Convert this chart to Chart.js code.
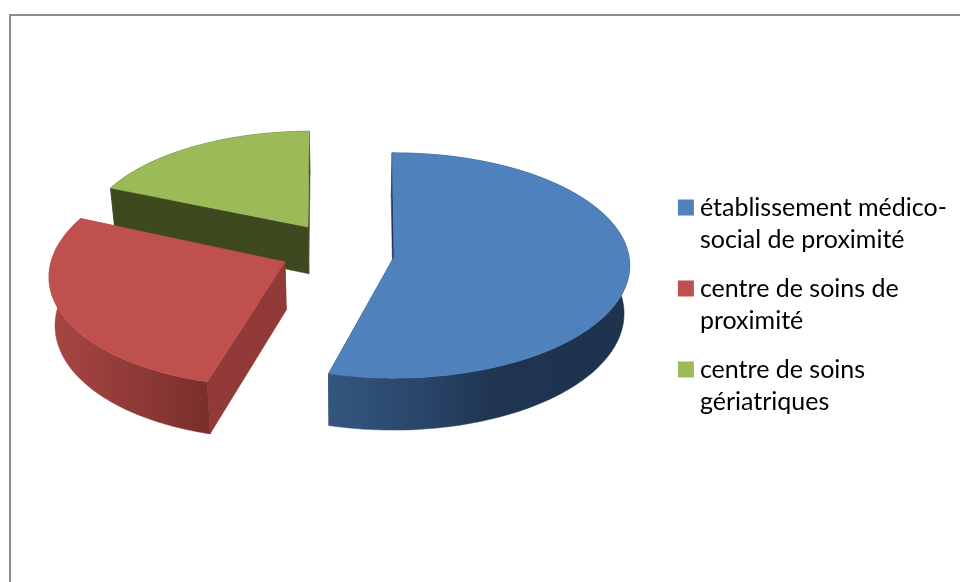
<!DOCTYPE html>
<html><head><meta charset="utf-8">
<script src="https://cdn.jsdelivr.net/npm/chart.js@4"></script>
<style>
html,body{margin:0;padding:0;background:#fff;overflow:hidden}
#wrap{position:relative;width:960px;height:582px;overflow:hidden}
#frame{position:absolute;left:9px;top:14px;width:1200px;height:900px;border-left:2px solid #8c8c8c;border-top:2px solid #8c8c8c}
canvas{position:absolute;left:0;top:0}
</style></head><body>
<div id="wrap"><div id="frame"></div><canvas id="c" width="960" height="582"></canvas></div>
<script>
const categories = [
  ["établissement médico-", "social de proximité"],
  ["centre de soins de", "proximité"],
  ["centre de soins", "gériatriques"]
];
const values = [54.3, 27.2, 18.5];
const colors = ["#4f81bd", "#c0504d", "#9bbb59"];

// Perspective pose of each exploded slice (style only, angles come from the library's arcs)
const poses = [
  {x:394, y:257, R:235, K:112, shear:0, cut:"#1b3350", rim:[[329,"#33567f"],[420,"#2a466a"],[497,"#1f3450"],[630,"#1e334e"]]},
  {x:285, y:262, R:234, K:115, shear:13, cut:"#923a38", rim:[[52,"#a84643"],[206,"#7a2f2d"]]},
  {x:308, y:227, R:222, K:103, shear:3, cut:"#3f4920", rim:[[110,"#3f4920"],[310,"#3f4920"]]}
];
const persp = 0.0755, depth = 48, depthGrow = 0.034, shrink = 0.98, vanishX = 350, vanishY = 262;

const top3d = (p, a) => {
  const s = Math.cos(a), t = -Math.sin(a), w = 1 + persp * t;
  return [p.x + p.R * s / w + p.shear * t, p.y - p.K * t / w];
};
const low = ([x, y]) => [vanishX + (x - vanishX) * shrink, y + depth + (y - vanishY) * depthGrow];
const poly = (ctx, pts, fill) => {
  ctx.beginPath();
  pts.forEach(([x, y], i) => i ? ctx.lineTo(x, y) : ctx.moveTo(x, y));
  ctx.closePath();
  ctx.fillStyle = fill; ctx.fill();
  ctx.strokeStyle = fill; ctx.lineWidth = 0.5; ctx.stroke();
};

const pie3d = {
  id: "pie3d",
  beforeDatasetDraw(chart, args) {
    const ctx = chart.ctx, arcs = args.meta.data;
    for (let i = arcs.length - 1; i >= 0; i--) {
      const arc = arcs[i], p = poses[i], n = 120, rimTop = [];
      for (let k = 0; k <= n; k++) rimTop.push(top3d(p, arc.startAngle + (arc.endAngle - arc.startAngle) * k / n));
      const apex = [p.x, p.y], first = rimTop[0], last = rimTop[n];
      const g = ctx.createLinearGradient(p.rim[0][0], 0, p.rim[p.rim.length - 1][0], 0);
      const x0 = p.rim[0][0], x1 = p.rim[p.rim.length - 1][0];
      p.rim.forEach(([x, c]) => g.addColorStop((x - x0) / (x1 - x0), c));
      poly(ctx, [apex, first, low(first), low(apex)], p.cut);
      poly(ctx, [apex, last, low(last), low(apex)], p.cut);
      poly(ctx, rimTop.concat(rimTop.map(low).reverse()), g);
      poly(ctx, [apex].concat(rimTop), arc.options.backgroundColor);
    }
    return false;
  }
};

new Chart(document.getElementById("c"), {
  type: "pie",
  data: { labels: categories, datasets: [{ data: values, backgroundColor: colors, borderWidth: 0 }] },
  options: {
    responsive: false, animation: false, rotation: -0.5,
    layout: { padding: { top: 34, right: 3 } },
    plugins: {
      tooltip: { enabled: false },
      legend: {
        position: "right",
        labels: {
          boxWidth: 3, boxHeight: 3, padding: 17, color: "#000",
          font: { family: "Lato", size: 25, lineHeight: 1.28 },
          generateLabels: () => categories.map((text, i) => ({
            text, fillStyle: colors[i], strokeStyle: colors[i], lineWidth: 13, index: i, hidden: false
          }))
        }
      }
    }
  },
  plugins: [pie3d]
});
</script>
</body></html>
